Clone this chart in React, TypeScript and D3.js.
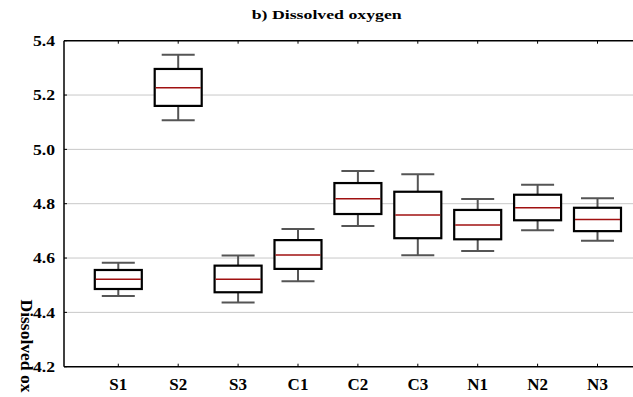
import React from "react";
import * as d3 from "d3";

const categories = ["S1", "S2", "S3", "C1", "C2", "C3", "N1", "N2", "N3"];
const whiskerLow = [4.46, 5.107, 4.436, 4.515, 4.718, 4.61, 4.626, 4.702, 4.664];
const q1 = [4.486, 5.16, 4.474, 4.56, 4.762, 4.673, 4.669, 4.739, 4.699];
const median = [4.522, 5.227, 4.522, 4.611, 4.818, 4.758, 4.722, 4.785, 4.742];
const q3 = [4.556, 5.296, 4.572, 4.666, 4.876, 4.844, 4.777, 4.833, 4.785];
const whiskerHigh = [4.583, 5.348, 4.609, 4.707, 4.92, 4.908, 4.817, 4.87, 4.82];
const yTicks = [4.2, 4.4, 4.6, 4.8, 5.0, 5.2, 5.4];
const title = "b) Dissolved oxygen";
const yLabel = "Dissolved ox";

const W = 633;
const H = 397;
const left = 64;
const top = 40.7;
const bottom = 366.7;
const fontStyle = { fontFamily: "'Liberation Serif', serif", fontWeight: 700 as const };

export default function App() {
  const x = d3.scalePoint<string>().domain(categories).range([118.3, 597.5]);
  const y = d3.scaleLinear().domain([4.2, 5.4]).range([bottom, top]);
  const boxW = 47;
  const capW = 33;
  return (
    <svg width={W} height={H} style={{ position: "absolute", left: 0, top: 0, background: "#fff" }}>
      <rect x={0} y={0} width={W} height={H} fill="#fff" />
      {yTicks.slice(1, -1).map((t) => (
        <line key={"g" + t} x1={left} x2={W} y1={y(t)} y2={y(t)} stroke="#c8c8c8" strokeWidth={1} />
      ))}
      <line x1={left} x2={W} y1={top} y2={top} stroke="#000" strokeWidth={1.5} />
      <line x1={left} x2={W} y1={bottom} y2={bottom} stroke="#000" strokeWidth={1.5} />
      <line x1={left} x2={left} y1={top} y2={bottom} stroke="#000" strokeWidth={1.5} />
      {yTicks.map((t) => (
        <g key={"yt" + t}>
          <line x1={left} x2={left + 3} y1={y(t)} y2={y(t)} stroke="#000" strokeWidth={1} />
          <text x={33} y={y(t)} dy="0.36em" textLength={22} lengthAdjust="spacingAndGlyphs" style={{ ...fontStyle, fontSize: 15 }} fill="#000">
            {d3.format(".1f")(t)}
          </text>
        </g>
      ))}
      {categories.map((c) => (
        <g key={"xt" + c}>
          <line x1={x(c)} x2={x(c)} y1={top} y2={top + 3} stroke="#000" strokeWidth={1} />
          <line x1={x(c)} x2={x(c)} y1={bottom} y2={bottom - 3} stroke="#000" strokeWidth={1} />
          <text x={x(c)} y={390} textAnchor="middle" style={{ ...fontStyle, fontSize: 17 }} fill="#000">
            {c}
          </text>
        </g>
      ))}
      {categories.map((c, i) => {
        const cx = x(c) as number;
        return (
          <g key={"b" + c}>
            <line x1={cx} x2={cx} y1={y(whiskerHigh[i])} y2={y(q3[i])} stroke="#555" strokeWidth={2} />
            <line x1={cx} x2={cx} y1={y(q1[i])} y2={y(whiskerLow[i])} stroke="#555" strokeWidth={2} />
            <line x1={cx - capW / 2} x2={cx + capW / 2} y1={y(whiskerHigh[i])} y2={y(whiskerHigh[i])} stroke="#555" strokeWidth={2} />
            <line x1={cx - capW / 2} x2={cx + capW / 2} y1={y(whiskerLow[i])} y2={y(whiskerLow[i])} stroke="#555" strokeWidth={2} />
            <rect x={cx - boxW / 2} y={y(q3[i])} width={boxW} height={y(q1[i]) - y(q3[i])} fill="#fff" stroke="#000" strokeWidth={2.2} />
            <line x1={cx - boxW / 2 + 1} x2={cx + boxW / 2 - 1} y1={y(median[i])} y2={y(median[i])} stroke="#a01010" strokeWidth={1.5} />
          </g>
        );
      })}
      <text x={251.7} y={18.5} textLength={150} lengthAdjust="spacingAndGlyphs" style={{ ...fontStyle, fontSize: 12 }} fill="#000">
        {title}
      </text>
      <text transform={`translate(20.5,299.5) rotate(90)`} textLength={93} lengthAdjust="spacingAndGlyphs" style={{ ...fontStyle, fontSize: 16 }} fill="#000">
        {yLabel}
      </text>
    </svg>
  );
}
